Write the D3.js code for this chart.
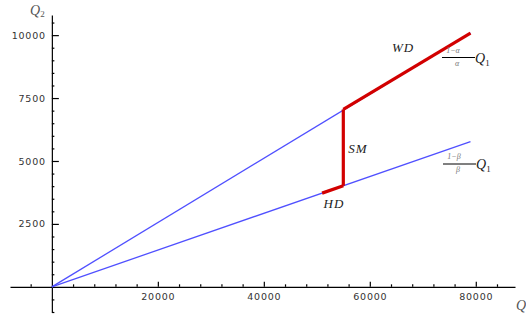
<!DOCTYPE html>
<html><head><meta charset="utf-8">
<script src="https://cdn.jsdelivr.net/npm/d3@7"></script>
<style>
body{margin:0;background:#fff;}
svg{display:block;}
.tick text{font-family:"DejaVu Sans",sans-serif;font-size:9.5px;fill:#333;letter-spacing:0.8px;}
.lab{font-family:"Liberation Serif",serif;font-style:italic;fill:#222;}
</style></head>
<body>
<script>
// ---- data ----
const xMajorTicks = [20000, 40000, 60000, 80000];
const xMinorTicks = [-4000, 4000, 8000, 12000, 16000, 24000, 28000, 32000, 36000, 44000, 48000, 52000, 56000, 64000, 68000, 72000, 76000, 84000];
const yMajorTicks = [2500, 5000, 7500, 10000];
const yMinorTicks = [-1000, -500, 500, 1000, 1500, 2000, 3000, 3500, 4000, 4500, 5500, 6000, 6500, 7000, 8000, 8500, 9000, 9500, 10500];
const upperLineQ1 = [0, 79000];
const upperLineQ2 = [0, 10080];
const lowerLineQ1 = [0, 79000];
const lowerLineQ2 = [0, 5767];
const hdQ1 = [51000, 55000];
const hdQ2 = [3723, 4015];
const smQ1 = [55000, 55000];
const smQ2 = [4015, 7050];
const wdQ1 = [55000, 79000];
const wdQ2 = [7050, 10080];
const segLabels = ["WD", "SM", "HD"];

const W = 526, H = 320;
const svg = d3.select("body").append("svg").attr("width", W).attr("height", H);
const x = d3.scaleLinear().domain([-7900, 87400]).range([10, 515]);
const y = d3.scaleLinear().domain([-1000, 10800]).range([312, 15]);

// x axis
const gx = svg.append("g").attr("transform", `translate(0,${y(0)})`);
gx.call(d3.axisBottom(x).tickValues(xMajorTicks).tickSize(-5).tickSizeOuter(0).tickPadding(6).tickFormat(d3.format("d")));
gx.call(g => g.append("g").call(d3.axisBottom(x).tickValues(xMinorTicks).tickSize(-2.5).tickSizeOuter(0).tickFormat("")).select(".domain").remove());
// y axis
const gy = svg.append("g").attr("transform", `translate(${x(0)},0)`);
gy.call(d3.axisLeft(y).tickValues(yMajorTicks).tickSize(-7).tickSizeOuter(0).tickPadding(6).tickFormat(d3.format("d")));
gy.call(g => g.append("g").call(d3.axisLeft(y).tickValues(yMinorTicks).tickSize(-2.5).tickSizeOuter(0).tickFormat("")).select(".domain").remove());
svg.selectAll(".domain, .tick line").attr("stroke", "#000").attr("stroke-width", 1.2);

const line = d3.line().x(d => x(d[0])).y(d => y(d[1]));
const pts = (a, b) => a.map((v, i) => [v, b[i]]);

// blue lines
[[upperLineQ1, upperLineQ2], [lowerLineQ1, lowerLineQ2]].forEach(([a, b]) => {
  svg.append("path").attr("d", line(pts(a, b))).attr("fill", "none")
    .attr("stroke", "#5050ff").attr("stroke-width", 1.3);
});
// red segments
[[hdQ1, hdQ2], [smQ1, smQ2], [wdQ1, wdQ2]].forEach(([a, b]) => {
  svg.append("path").attr("d", line(pts(a, b))).attr("fill", "none")
    .attr("stroke", "#d20000").attr("stroke-width", 3.2).attr("stroke-linecap", "butt");
});

// segment labels
svg.append("text").attr("class", "lab").attr("x", 403).attr("y", 52).attr("text-anchor", "middle")
  .attr("font-size", 13).attr("letter-spacing", 1).text(segLabels[0]);
svg.append("text").attr("class", "lab").attr("x", 358).attr("y", 153).attr("text-anchor", "middle")
  .attr("font-size", 13).attr("letter-spacing", 1).text(segLabels[1]);
svg.append("text").attr("class", "lab").attr("x", 334).attr("y", 208).attr("text-anchor", "middle")
  .attr("font-size", 13).attr("letter-spacing", 1).text(segLabels[2]);

// fraction labels
function frac(cx, barY, num, den) {
  svg.append("text").attr("class", "lab").attr("x", cx - 5).attr("y", barY - 5).attr("text-anchor", "middle")
    .attr("font-size", 8).style("fill", "#777").text(num);
  svg.append("line").attr("x1", cx - 16).attr("x2", cx + 17).attr("y1", barY).attr("y2", barY)
    .attr("stroke", "#000").attr("stroke-width", 1);
  svg.append("text").attr("class", "lab").attr("x", cx - 1).attr("y", barY + 8).attr("text-anchor", "middle")
    .attr("font-size", 8).style("fill", "#777").text(den);
  const t = svg.append("text").attr("class", "lab").attr("x", cx + 17).attr("y", barY + 5).attr("font-size", 14);
  t.append("tspan").text("Q");
  t.append("tspan").attr("font-size", 9).attr("dy", 3).style("font-style", "normal").text("1");
}
frac(458, 57.5, "1−α", "α");
frac(459, 164, "1−β", "β");

// axis titles
const t2 = svg.append("text").attr("class", "lab").attr("x", 30).attr("y", 15).attr("font-size", 14).style("fill", "#555");
t2.append("tspan").text("Q");
t2.append("tspan").attr("font-size", 9).attr("dy", 2).style("font-style", "normal").text("2");
svg.append("text").attr("class", "lab").attr("x", 516).attr("y", 310).attr("font-size", 14).style("fill", "#555").text("Q");
</script>
</body></html>
